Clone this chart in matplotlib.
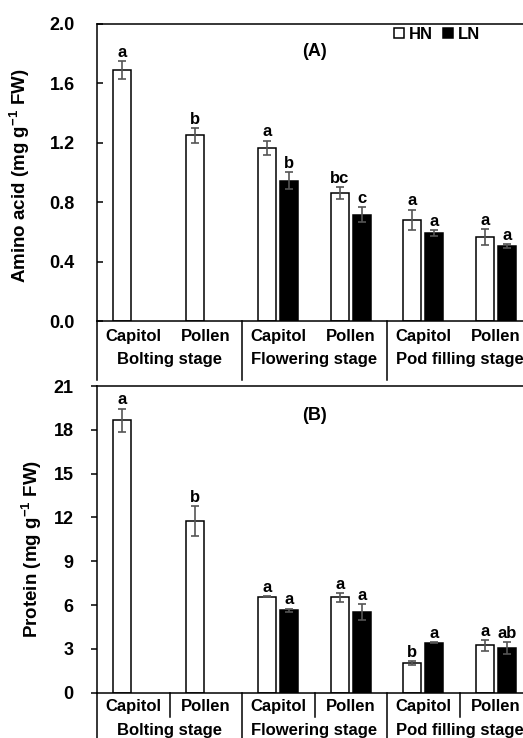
import numpy as np
import matplotlib.pyplot as plt
from matplotlib.patches import Patch

plt.rcParams['font.family'] = ['Liberation Sans', 'DejaVu Sans']
plt.rcParams['font.weight'] = 'bold'
plt.rcParams['mathtext.fontset'] = 'custom'
plt.rcParams['mathtext.rm'] = 'Liberation Sans:bold'
plt.rcParams['mathtext.bf'] = 'Liberation Sans:bold'

organs = ['Capitol', 'Pollen', 'Capitol', 'Pollen', 'Capitol', 'Pollen']
stages = ['Bolting stage', 'Flowering stage', 'Pod filling stage']

# amino acid (mg g-1 FW)
aa_hn = [1.69, 1.25, 1.165, 0.86, 0.68, 0.565]
aa_hn_err = [0.06, 0.05, 0.05, 0.04, 0.07, 0.055]
aa_ln = [np.nan, np.nan, 0.945, 0.715, 0.595, 0.505]
aa_ln_err = [np.nan, np.nan, 0.058, 0.05, 0.02, 0.013]
aa_hn_let = ['a', 'b', 'a', 'bc', 'a', 'a']
aa_ln_let = ['', '', 'b', 'c', 'a', 'a']

# protein (mg g-1 FW)
pr_hn = [18.65, 11.75, 6.57, 6.53, 2.03, 3.24]
pr_hn_err = [0.8, 1.0, 0.05, 0.3, 0.12, 0.37]
pr_ln = [np.nan, np.nan, 5.64, 5.5, 3.42, 3.05]
pr_ln_err = [np.nan, np.nan, 0.12, 0.55, 0.05, 0.43]
pr_hn_let = ['a', 'b', 'a', 'a', 'b', 'a']
pr_ln_let = ['', '', 'a', 'a', 'a', 'ab']

W, H = 523, 738
fig = plt.figure(figsize=(W/100, H/100), dpi=100)
axA = fig.add_axes([97/W, 1-321/H, 435/W, 297/H])
axB = fig.add_axes([97/W, 1-692.7/H, 435/W, 306.7/H])

x = np.arange(len(organs))
bw = 0.245
off = 0.152
fs = 12
ecol = '#555555'


def draw(ax, hn, hne, ln, lne, hl, ll, ymax, step, fmt, short_div, lab_off):
    ax.bar(x - off, hn, bw, color='white', edgecolor='black', linewidth=1.1, zorder=2)
    ax.errorbar(x - off, hn, yerr=hne, fmt='none', ecolor=ecol, elinewidth=1.2,
                capsize=3, capthick=1.2, zorder=3)
    ln = np.array(ln)
    m = ~np.isnan(ln)
    ax.bar(x[m] + off, ln[m], bw, color='black', edgecolor='black', linewidth=1.1, zorder=2)
    ax.errorbar(x[m] + off, ln[m], yerr=np.array(lne)[m], fmt='none', ecolor=ecol,
                elinewidth=1.2, capsize=3, capthick=1.2, zorder=3)
    for i in range(len(x)):
        ax.annotate(hl[i], (x[i] - off, hn[i] + hne[i]), xytext=(0, 3),
                    textcoords='offset points', ha='center', va='baseline',
                    fontsize=fs, fontweight='bold')
        if m[i]:
            ax.annotate(ll[i], (x[i] + off, ln[i] + lne[i]), xytext=(0, 3),
                        textcoords='offset points', ha='center', va='baseline',
                        fontsize=fs, fontweight='bold')
    ax.set_xlim(-0.5, 5.5)
    ax.set_ylim(0, ymax)
    ax.set_yticks(np.arange(0, ymax + step/2, step))
    ax.set_yticklabels([fmt % v for v in np.arange(0, ymax + step/2, step)],
                       fontsize=13, fontweight='bold')
    ax.set_xticks([])
    for s in ax.spines.values():
        s.set_linewidth(1.1)
    tr = ax.get_xaxis_transform()
    for i, name in enumerate(organs):
        ax.annotate(name, (x[i], 0), xycoords=tr, xytext=(0, -lab_off[0]),
                    textcoords='offset points', ha='center', va='center',
                    fontsize=fs, fontweight='bold', annotation_clip=False)
    for j, st in enumerate(stages):
        ax.annotate(st, (2*j + 0.5, 0), xycoords=tr, xytext=(0, -lab_off[1]),
                    textcoords='offset points', ha='center', va='center',
                    fontsize=fs, fontweight='bold', annotation_clip=False)
    for xd in [-0.5, 1.5, 3.5, 5.5]:
        ax.plot([xd, xd], [0, -0.2], transform=tr, color='black', lw=1.1, clip_on=False)
    if short_div:
        for xd in [0.5, 2.5, 4.5]:
            ax.plot([xd, xd], [0, -0.08], transform=tr, color='black', lw=1.1, clip_on=False)


draw(axA, aa_hn, aa_hn_err, aa_ln, aa_ln_err, aa_hn_let, aa_ln_let,
     2.0, 0.4, '%.1f', False, (11.5, 27.5))
draw(axB, pr_hn, pr_hn_err, pr_ln, pr_ln_err, pr_hn_let, pr_ln_let,
     21, 3, '%d', True, (10, 27))

axA.tick_params(axis='y', direction='in', length=4, width=1.1, pad=16)
axB.tick_params(axis='y', direction='out', length=4, width=1.1, pad=13)

axA.set_ylabel(r'Amino acid (mg g$^{-1}$ FW)', fontsize=13.5, fontweight='bold')
axA.yaxis.set_label_coords(-0.15, 0.49)
axB.set_ylabel(r'Protein (mg g$^{-1}$ FW)', fontsize=13.5, fontweight='bold')
axB.yaxis.set_label_coords(-0.122, 0.47)

axA.text(0.5, 0.909, '(A)', transform=axA.transAxes, ha='center', va='center',
         fontsize=13, fontweight='bold')
axB.text(0.5, 0.905, '(B)', transform=axB.transAxes, ha='center', va='center',
         fontsize=13, fontweight='bold')

handles = [Patch(facecolor='white', edgecolor='black', linewidth=1.1),
           Patch(facecolor='black', edgecolor='black', linewidth=1.1)]
axA.legend(handles, ['HN', 'LN'], ncol=2, loc='upper left', bbox_to_anchor=(0.683, 0.99),
           frameon=False, borderaxespad=0, borderpad=0, handlelength=0.6,
           handleheight=0.6, handletextpad=0.3, columnspacing=0.6,
           prop={'size': fs, 'weight': 'bold'})

fig.savefig('out.png', dpi=100)
